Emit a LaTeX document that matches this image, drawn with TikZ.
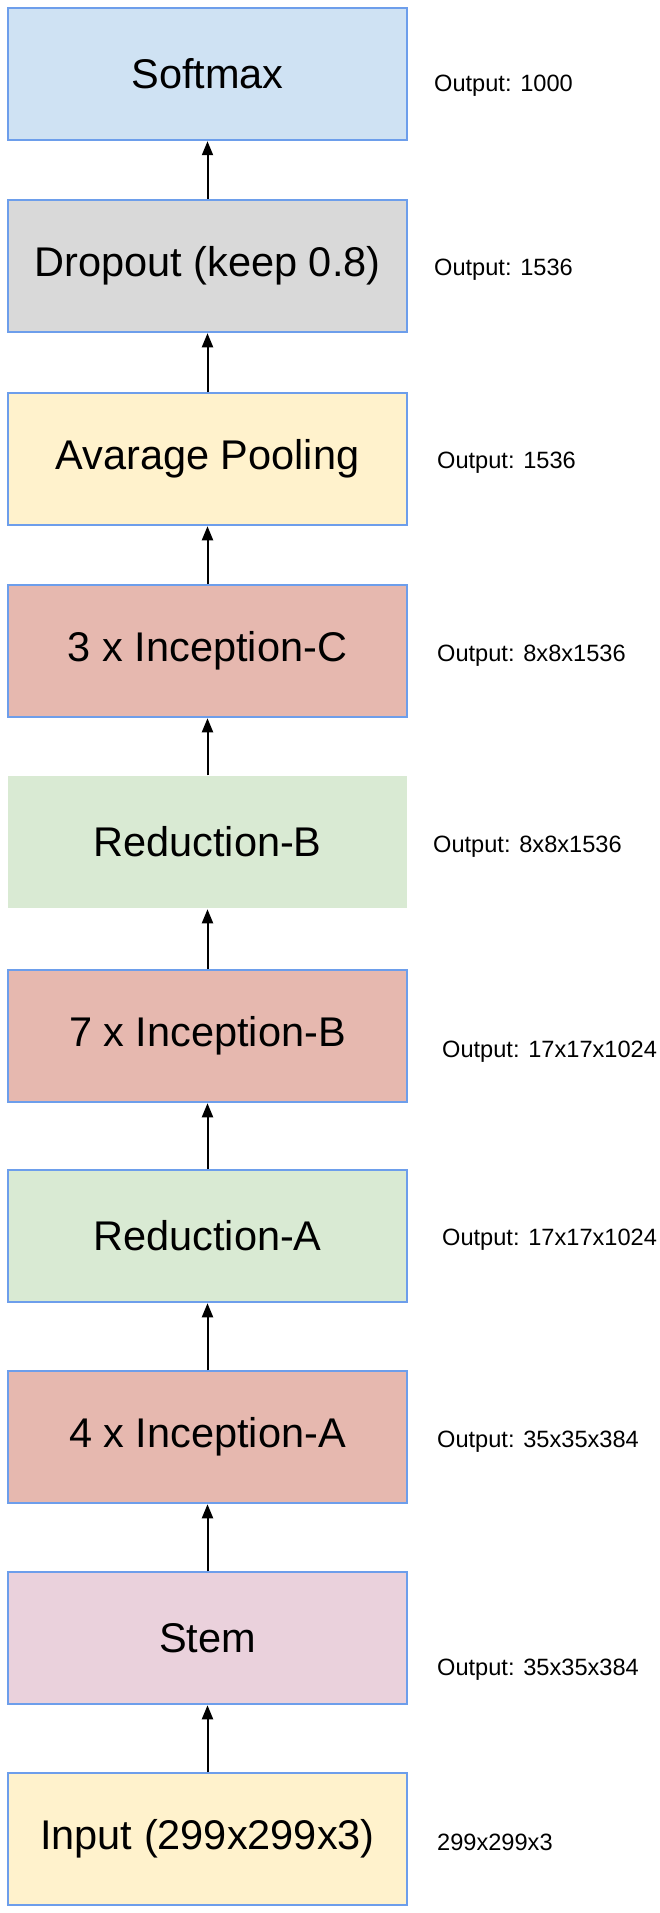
\documentclass[tikz,border=0pt]{standalone}
\usepackage{fontspec}
\setmainfont{Liberation Sans}
\usetikzlibrary{arrows.meta}
\definecolor{edgeblue}{HTML}{6D9EEB}
\definecolor{cblue}{HTML}{CFE2F3}
\definecolor{cgrey}{HTML}{D9D9D9}
\definecolor{cyellow}{HTML}{FFF2CC}
\definecolor{cred}{HTML}{E6B8AF}
\definecolor{cgreen}{HTML}{D9EAD3}
\definecolor{cpink}{HTML}{EAD1DC}
\tikzset{
  layer/.style={rectangle, minimum width=399pt, minimum height=132pt, inner sep=0pt,
    draw=edgeblue, line width=1.5pt, font=\fontsize{41.5}{49}\selectfont},
  plainlayer/.style={layer, draw=none},
  outlbl/.style={anchor=west, inner sep=0pt, font=\fontsize{23.6}{28}\selectfont},
  flow/.style={line width=2pt, -{Triangle[length=14pt,width=11pt]}, shorten >=0.5pt}
}
\begin{document}
\begin{tikzpicture}[x=1pt,y=-1pt]
\useasboundingbox[fill=white] (0,0) rectangle (660,1913);
% layer stack, bottom to top
\node[layer, fill=cyellow] (input) at (207.5,1839) {Input (299x299x3)};
\node[layer, fill=cpink]   (stem)  at (207.5,1638) {Stem};
\node[layer, fill=cred]    (inca)  at (207.5,1437) {4 x Inception-A};
\node[layer, fill=cgreen]  (reda)  at (207.5,1236) {Reduction-A};
\node[layer, fill=cred]    (incb)  at (207.5,1036) {7 x Inception-B};
\node[plainlayer, fill=cgreen] (redb) at (207.5,842) {Reduction-B};
\node[layer, fill=cred]    (incc)  at (207.5,651) {3 x Inception-C};
\node[layer, fill=cyellow] (pool)  at (207.5,459) {Avarage Pooling};
\node[layer, fill=cgrey]   (drop)  at (207.5,266) {Dropout (keep 0.8)};
\node[layer, fill=cblue]   (soft)  at (207.5,74)  {Softmax};
% output sizes
\node[outlbl] (osoft)  at (434,86)   {Output: 1000};
\node[outlbl] (odrop)  at (434,270)  {Output: 1536};
\node[outlbl] (opool)  at (437,463)  {Output: 1536};
\node[outlbl] (oincc)  at (437,656)  {Output: 8x8x1536};
\node[outlbl] (oredb)  at (433,847)  {Output: 8x8x1536};
\node[outlbl] (oincb)  at (442,1052) {Output: 17x17x1024};
\node[outlbl] (oreda)  at (442,1240) {Output: 17x17x1024};
\node[outlbl] (oinca)  at (437,1442) {Output: 35x35x384};
\node[outlbl] (ostem)  at (437,1670) {Output: 35x35x384};
\node[outlbl] (oinput) at (437,1842) {299x299x3};
% data flow
\draw[flow] (input.north) -- (stem.south);
\draw[flow] (stem.north) -- (inca.south);
\draw[flow] (inca.north) -- (reda.south);
\draw[flow] (reda.north) -- (incb.south);
\draw[flow] (incb.north) -- (redb.south);
\draw[flow] (redb.north) -- (incc.south);
\draw[flow] (incc.north) -- (pool.south);
\draw[flow] (pool.north) -- (drop.south);
\draw[flow] (drop.north) -- (soft.south);
\end{tikzpicture}
\end{document}
